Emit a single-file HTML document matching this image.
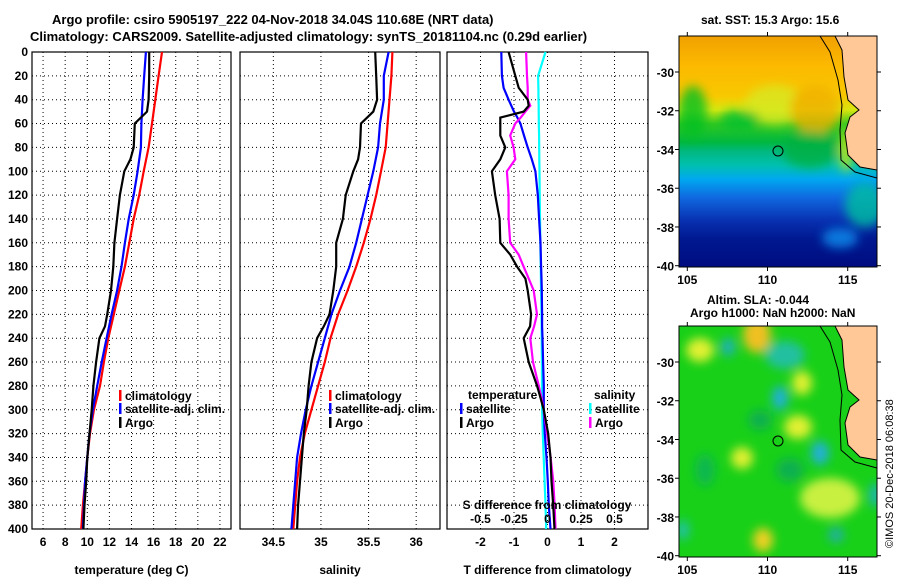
<!DOCTYPE html>
<html><head><meta charset="utf-8"><style>
body{margin:0;background:#fff}
svg text{font-family:"Liberation Sans",sans-serif;font-weight:bold;font-size:12px;fill:#000}
</style></head><body>
<svg id="fig" width="900" height="580" viewBox="0 0 900 580" xmlns="http://www.w3.org/2000/svg">
<defs>
<linearGradient id="sstGrad" x1="0" y1="0" x2="0" y2="1">
<stop offset="0" stop-color="#f0a000"/><stop offset="0.12" stop-color="#fcb800"/>
<stop offset="0.26" stop-color="#f8c800"/><stop offset="0.32" stop-color="#d8e810"/>
<stop offset="0.38" stop-color="#30c820"/><stop offset="0.46" stop-color="#00b840"/>
<stop offset="0.50" stop-color="#00b880"/><stop offset="0.56" stop-color="#00c0b0"/>
<stop offset="0.62" stop-color="#00a8f0"/><stop offset="0.70" stop-color="#1068e0"/>
<stop offset="0.80" stop-color="#0830b0"/><stop offset="0.88" stop-color="#001890"/>
<stop offset="1" stop-color="#000c80"/></linearGradient>
<filter id="blur6"><feGaussianBlur stdDeviation="5"/></filter>
<clipPath id="clipTop"><rect x="679" y="36" width="198" height="231"/></clipPath>
<clipPath id="clipBot"><rect x="679" y="326" width="198" height="231"/></clipPath>
</defs>
<text x="52" y="24" style="font-size:13px">Argo profile: csiro 5905197_222 04-Nov-2018 34.04S 110.68E (NRT data)</text>
<text x="30" y="41" style="font-size:13px">Climatology: CARS2009. Satellite-adjusted climatology: synTS_20181104.nc (0.29d earlier)</text>
<g id="panels"></g>

<!-- top map -->
<g clip-path="url(#clipTop)">
<rect x="679" y="36" width="198" height="231" fill="url(#sstGrad)"/>
<g filter="url(#blur6)" opacity="0.8">
<ellipse cx="775" cy="105" rx="30" ry="20" fill="#d8e820"/>
<ellipse cx="693" cy="112" rx="14" ry="26" fill="#00c020"/>
<ellipse cx="815" cy="110" rx="25" ry="25" fill="#f0b000"/>
<ellipse cx="810" cy="150" rx="28" ry="18" fill="#00b040"/>
<ellipse cx="740" cy="120" rx="20" ry="10" fill="#00c030"/>
<ellipse cx="865" cy="205" rx="20" ry="22" fill="#00c0a0"/>
<ellipse cx="840" cy="238" rx="18" ry="10" fill="#1090f0"/>
<ellipse cx="846" cy="150" rx="6" ry="22" fill="#e8f000"/>
</g>
<path d="M835,36 L842,50 L844,77 L848,100 L859,110 L850,117 L845,133 L848,155 L860,167 L877,170 L877,36 Z" fill="#ffc896"/>
<path d="M835,36 L842,50 L844,77 L848,100 L859,110 L850,117 L845,133 L848,155 L860,167 L877,170" fill="none" stroke="#000" stroke-width="1"/>
<path d="M820,36 L830,52 L838,80 L842,105 L840,130 L841,160 L855,172 L877,178" fill="none" stroke="#000" stroke-width="1"/>
</g>
<rect x="679" y="36" width="198" height="231" fill="none" stroke="#000" stroke-width="1"/>
<circle cx="778" cy="151" r="5" fill="none" stroke="#000"/>
<text x="701" y="24">sat. SST: 15.3 Argo: 15.6</text>

<!-- bottom map -->
<g clip-path="url(#clipBot)">
<rect x="679" y="326" width="198" height="231" fill="#18d018"/>
<g filter="url(#blur6)">
<ellipse cx="757" cy="335" rx="14" ry="18" fill="#f0c020"/>
<ellipse cx="700" cy="350" rx="14" ry="12" fill="#e0f030"/>
<ellipse cx="728" cy="347" rx="7" ry="9" fill="#20b0c0"/>
<ellipse cx="785" cy="355" rx="20" ry="14" fill="#20c0a0"/>
<ellipse cx="802" cy="383" rx="10" ry="12" fill="#e0f030"/>
<ellipse cx="780" cy="398" rx="8" ry="12" fill="#20b0d8"/>
<ellipse cx="798" cy="427" rx="14" ry="12" fill="#e0f030"/>
<ellipse cx="742" cy="458" rx="11" ry="11" fill="#e0f030"/>
<ellipse cx="820" cy="453" rx="9" ry="12" fill="#20b0d8"/>
<ellipse cx="830" cy="498" rx="30" ry="20" fill="#c8f040"/>
<ellipse cx="763" cy="540" rx="10" ry="12" fill="#f0d020"/>
<ellipse cx="683" cy="530" rx="6" ry="10" fill="#20c0b0"/>
<ellipse cx="875" cy="495" rx="5" ry="12" fill="#20b0d0"/>
<ellipse cx="836" cy="535" rx="8" ry="8" fill="#20b0a0"/>
<ellipse cx="760" cy="420" rx="12" ry="10" fill="#10b050"/>
<ellipse cx="790" cy="470" rx="14" ry="12" fill="#10b050"/>
<ellipse cx="705" cy="470" rx="10" ry="16" fill="#10b850"/>
</g>
<path d="M835,326 L842,340 L844,367 L848,390 L859,400 L850,407 L845,423 L848,445 L860,457 L877,460 L877,326 Z" fill="#ffc896"/>
<path d="M835,326 L842,340 L844,367 L848,390 L859,400 L850,407 L845,423 L848,445 L860,457 L877,460" fill="none" stroke="#000"/>
<path d="M820,326 L830,342 L838,370 L842,395 L840,420 L841,450 L855,462 L877,468" fill="none" stroke="#000"/>
</g>
<rect x="679" y="326" width="198" height="231" fill="none" stroke="#000" stroke-width="1"/>
<circle cx="778" cy="441" r="5" fill="none" stroke="#000"/>
<text x="707" y="304">Altim. SLA: -0.044</text>
<text x="690" y="317">Argo h1000: NaN h2000: NaN</text>
<text transform="translate(893,548) rotate(-90)" style="font-weight:normal;font-size:11px">©IMOS 20-Dec-2018 06:08:38</text>
</svg>
<script>
// ---- data ----
const depths = [0,20,40,60,80,100,120,140,160,180,200,220,240,260,280,300,320,340,360,380,400];
const tempClim = [16.76,16.45,16.15,15.85,15.55,15.1,14.7,14.2,13.8,13.4,12.9,12.4,11.9,11.5,11.15,10.6,10.25,10.0,9.8,9.6,9.45];
const tempSat = [15.3,15.15,15.0,14.9,14.85,14.55,14.2,13.75,13.4,13.1,12.7,12.2,11.75,11.3,10.9,10.5,10.2,10.0,9.8,9.7,9.6];
const argoDepths = [0,20,40,50,60,80,90,100,120,140,160,180,200,220,230,240,260,280,300,320,340,360,380,400];
const tempArgo = [15.6,15.6,15.55,15.4,14.3,14.2,13.9,13.35,12.95,12.7,12.45,12.35,12.15,11.8,11.6,11.1,10.8,10.55,10.4,10.2,10.0,9.9,9.75,9.65];
const salClim = [35.75,35.74,35.72,35.70,35.68,35.63,35.58,35.52,35.45,35.37,35.28,35.18,35.10,35.04,34.97,34.90,34.83,34.78,34.75,34.73,34.71];
const salSat = [35.71,35.66,35.66,35.62,35.60,35.55,35.49,35.43,35.37,35.30,35.20,35.11,35.04,34.97,34.90,34.84,34.79,34.75,34.73,34.71,34.69];
const salArgo = [35.57,35.58,35.59,35.55,35.42,35.41,35.39,35.34,35.26,35.23,35.16,35.16,35.13,35.09,35.03,34.96,34.90,34.87,34.85,34.82,34.80,34.78,34.76,34.75];
const diffDepths = [0,20,30,40,45,50,55,60,70,80,90,100,120,140,160,170,180,190,200,220,230,240,260,280,290,300,320,340,360,380,400];
const tDiffSat = [-1.38,-1.36,-1.31,-1.16,-1.08,-1.0,-0.9,-0.81,-0.7,-0.59,-0.47,-0.36,-0.29,-0.25,-0.21,-0.2,-0.19,-0.18,-0.17,-0.16,-0.16,-0.15,-0.13,-0.11,-0.11,-0.11,-0.08,-0.03,0.01,0.04,0.09];
const tDiffArgo = [-1.16,-0.96,-0.86,-0.59,-0.56,-0.71,-1.41,-1.41,-1.41,-1.26,-1.41,-1.66,-1.56,-1.43,-1.41,-1.11,-0.91,-0.66,-0.59,-0.49,-0.52,-0.71,-0.56,-0.31,-0.21,-0.11,0.02,0.09,0.12,0.17,0.21];
const sDiffArgo = [-0.16,-0.153,-0.148,-0.148,-0.128,-0.165,-0.2,-0.24,-0.278,-0.253,-0.24,-0.303,-0.29,-0.29,-0.278,-0.215,-0.178,-0.14,-0.103,-0.078,-0.1,-0.128,-0.108,-0.065,-0.045,-0.028,-0.003,0.023,0.043,0.053,0.06];
const sDiffSat = [-0.015,-0.07,-0.068,-0.067,-0.066,-0.066,-0.065,-0.065,-0.063,-0.062,-0.061,-0.06,-0.058,-0.056,-0.053,-0.052,-0.05,-0.049,-0.048,-0.045,-0.044,-0.043,-0.042,-0.041,-0.04,-0.04,-0.035,-0.028,-0.022,-0.015,-0.01];
const depthTicks = [0,20,40,60,80,100,120,140,160,180,200,220,240,260,280,300,320,340,360,380,400];
const tTicks = [6,8,10,12,14,16,18,20,22];
const sTicks = [34.5,35,35.5,36];
const dTicks = [-2,-1,0,1,2];
const sdTickLabels = ["-0.5","-0.25","0","0.25","0.5"];
const sdTicks = [-0.5,-0.25,0,0.25,0.5];
const mapLatTicks = [-30,-32,-34,-36,-38,-40];
const mapLonTicks = [105,110,115];

const NS='http://www.w3.org/2000/svg';
const fig=document.getElementById('fig');
const root=document.getElementById('panels');
const Y0=52,Y1=529;
const yD=d=>Y0+d*(Y1-Y0)/400;
function mk(tag,attrs,parent){const e=document.createElementNS(NS,tag);for(const k in attrs)e.setAttribute(k,attrs[k]);(parent||root).appendChild(e);return e;}
function txt(x,y,s,anchor,parent){const t=mk('text',{x:x,y:y,'text-anchor':anchor||'start'},parent);t.textContent=s;return t;}

const panels=[
 {name:'temperature',x0:32,x1:231,d0:5,d1:23,ticks:tTicks,label:'temperature (deg C)'},
 {name:'salinity',x0:240,x1:440,d0:34.15,d1:36.25,ticks:sTicks,label:'salinity'},
 {name:'difference',x0:447,x1:648,d0:-3,d1:3,ticks:dTicks,label:'T difference from climatology'}
];
panels.forEach(p=>{p.sx=v=>p.x0+(v-p.d0)/(p.d1-p.d0)*(p.x1-p.x0);});

panels.forEach((p,i)=>{
  const g=mk('g',{});
  
  
  depthTicks.forEach(d=>{if(d>0&&d<400){const l=mk('line',{x1:p.x0,x2:p.x1,y1:yD(d),y2:yD(d),stroke:'#000','stroke-dasharray':'1,3'},g);}});
  p.ticks.forEach((v,j)=>{
    const x=p.sx(v);
    const l=mk('line',{x1:x,x2:x,y1:Y0,y2:Y1,stroke:'#000','stroke-dasharray':'1,3'},g);
    
    
    const t=txt(x,546,String(v),'middle',g);
    
    
  });
  const r=mk('rect',{x:p.x0,y:Y0,width:p.x1-p.x0,height:Y1-Y0,fill:'none',stroke:'#000','stroke-width':1.2},g);
  
  
  const xl=txt((p.x0+p.x1)/2,574,p.label,'middle',g);
  
  
  p.g=g;
});
depthTicks.forEach(d=>{
  const t=txt(28,yD(d)+4,String(d),'end');
  
  
});

function line(p,xs,ds,color,name,w){
  const pts=xs.map((v,i)=>p.sx(v).toFixed(1)+','+yD(ds[i]).toFixed(1)).join(' ');
  const pl=mk('polyline',{points:pts,fill:'none',stroke:color,'stroke-width':w||2.2},p.g);
  
  
}
const P1=panels[0],P2=panels[1],P3=panels[2];
line(P1,tempClim,depths,'#ff0000','temp-climatology-line');
line(P1,tempSat,depths,'#0000ff','temp-satellite-line');
line(P1,tempArgo,argoDepths,'#000','temp-argo-line');
line(P2,salClim,depths,'#ff0000','sal-climatology-line');
line(P2,salSat,depths,'#0000ff','sal-satellite-line');
line(P2,salArgo,argoDepths,'#000','sal-argo-line');
line(P3,sDiffSat.map(v=>v*4),diffDepths,'#00ffff','s-diff-satellite-line');
line(P3,tDiffSat,diffDepths,'#0000ff','t-diff-satellite-line');
line(P3,sDiffArgo.map(v=>v*4),diffDepths,'#ff00ff','s-diff-argo-line');
line(P3,tDiffArgo,diffDepths,'#000','t-diff-argo-line');

function legend(mx,y,color,label,name){
  const m=mk('rect',{x:mx,y:y-10,width:2.5,height:11,fill:color});
  
  
  const t=txt(mx+6,y,label);
  
  
}
[[P1,119,125],[P2,329,335]].forEach(([p,mx])=>{
  legend(mx,400,'#ff0000','climatology','climatology');
  legend(mx,413,'#0000ff','satellite-adj. clim.','satellite-adj');
  legend(mx,427,'#000','Argo','argo');
});
const th=txt(468,399,'temperature');
legend(460,413,'#0000ff','satellite','t-satellite');
legend(460,427,'#000','Argo','t-argo');
const sh=txt(594,399,'salinity');
legend(589,413,'#00ffff','satellite','s-satellite');
legend(589,427,'#ff00ff','Argo','s-argo');
const st=txt(547,509,'S difference from climatology','middle');
sdTicks.forEach((v,i)=>{const t=txt(P3.sx(v*4),523,sdTickLabels[i],'middle');});

// map axes
const lonX=v=>687.3+(v-105)*16.04;
[[36,267,72],[326,557,362]].forEach(([t,b,lat30],k)=>{
  mapLatTicks.forEach(v=>{
    const y=lat30+(-30-v)*19.37;
    mk('line',{x1:877,x2:881,y1:y,y2:y,stroke:'#000'},fig);
    mk('line',{x1:675,x2:679,y1:y,y2:y,stroke:'#000'},fig);
    const tl=txt(674,y+5,String(v),'end',fig);
    
    
  });
  mapLonTicks.forEach(v=>{
    const x=lonX(v);
    mk('line',{x1:x,x2:x,y1:b,y2:b+4,stroke:'#000'},fig);
    mk('line',{x1:x,x2:x,y1:t-4,y2:t,stroke:'#000'},fig);
    const tl=txt(x,b+17,String(v),'middle',fig);
    
    
  });
});
</script>
</body></html>
